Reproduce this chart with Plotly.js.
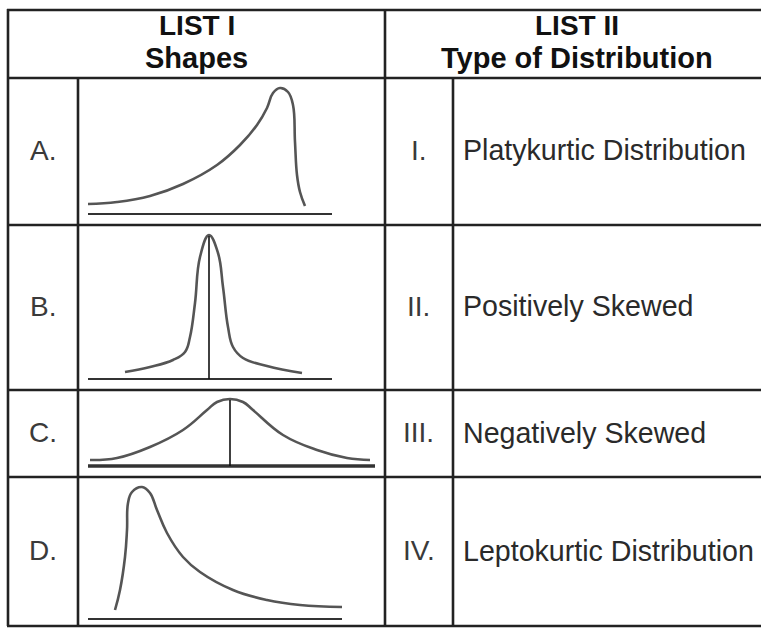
<!DOCTYPE html>
<html>
<head>
<meta charset="utf-8">
<script src="https://cdn.plot.ly/plotly-3.0.1.min.js"></script>
<style>html,body{margin:0;padding:0;background:#fff;}#chart{width:761px;height:628px;}</style>
</head>
<body>
<div id="chart"></div>
<script>
// ---------- DATA ----------
const headerTitles = ['LIST I', 'LIST II'];
const headerSubtitles = ['Shapes', 'Type of Distribution'];
const rowLetters = ['A.', 'B.', 'C.', 'D.'];
const romanNumerals = ['I.', 'II.', 'III.', 'IV.'];
const distributionTypes = ['Platykurtic Distribution', 'Positively Skewed', 'Negatively Skewed', 'Leptokurtic Distribution'];

// Shape A (curve values: horizontal value, height above baseline)
const shapeA_x = [0, 29, 62, 95, 129, 152, 169, 179, 185, 192, 200, 205, 207, 209, 212, 217];
const shapeA_y = [10, 12, 18, 30, 49, 69, 89, 106, 121, 126, 122, 109, 72, 39, 22, 8];
const shapeA_base = [0, 244];

// Shape B
const shapeB_x = [37, 62, 85, 97, 102, 107, 112, 121, 130, 135, 140, 145, 155, 179, 214];
const shapeB_y = [7, 12, 19, 27, 42, 76, 122, 144, 126, 92, 52, 32, 21, 13, 6];
const shapeB_base = [0, 244];
const shapeB_mode = 121;

// Shape C
const shapeC_x = [2, 29, 62, 95, 119, 129, 142, 155, 165, 195, 229, 259, 282];
const shapeC_y = [6, 8, 19, 36, 56, 64, 67, 64, 56, 31, 16, 8, 6];
const shapeC_base = [0, 287];
const shapeC_mode = 142;

// Shape D
const shapeD_x = [27, 32, 37, 39, 40, 44, 54, 62, 69, 79, 95, 112, 145, 179, 212, 254];
const shapeD_y = [9, 29, 62, 89, 116, 127, 132, 126, 109, 86, 62, 47, 29, 19, 14, 12];
const shapeD_base = [0, 254];

// ---------- LAYOUT GEOMETRY ----------
const W = 761, H = 628;
const colX = [8, 78, 385, 453];
const rowY = [10, 78, 225, 390, 477, 626];
const baseY = [214, 379, 466, 619];
const curveLeft = 88;
const px = x => x / W;
const py = y => 1 - y / H;

const curveColor = '#555555';
const lineColor = '#222222';
const fontFam = 'Liberation Sans, Arial, sans-serif';

const shapesData = [
  {x: shapeA_x, y: shapeA_y, base: shapeA_base, mode: null},
  {x: shapeB_x, y: shapeB_y, base: shapeB_base, mode: shapeB_mode},
  {x: shapeC_x, y: shapeC_y, base: shapeC_base, mode: shapeC_mode},
  {x: shapeD_x, y: shapeD_y, base: shapeD_base, mode: null}
];

const traces = [];
const layout = {
  width: W, height: H,
  margin: {l: 0, r: 0, t: 0, b: 0},
  paper_bgcolor: '#ffffff', plot_bgcolor: 'rgba(0,0,0,0)',
  showlegend: false,
  shapes: [], annotations: []
};

shapesData.forEach((s, i) => {
  const xa = i === 0 ? 'x' : 'x' + (i + 1);
  const ya = i === 0 ? 'y' : 'y' + (i + 1);
  const xk = i === 0 ? 'xaxis' : 'xaxis' + (i + 1);
  const yk = i === 0 ? 'yaxis' : 'yaxis' + (i + 1);
  const top = rowY[i + 1], bottom = rowY[i + 2];
  layout[xk] = {domain: [px(colX[1]), px(colX[2])], range: [colX[1] - curveLeft, colX[2] - curveLeft],
    visible: false, fixedrange: true, anchor: ya};
  layout[yk] = {domain: [py(bottom), py(top)], range: [baseY[i] - bottom, baseY[i] - top],
    visible: false, fixedrange: true, anchor: xa};
  traces.push({type: 'scatter', mode: 'lines', x: s.base, y: [0, 0], xaxis: xa, yaxis: ya,
    line: {color: '#333333', width: i === 2 ? 3.5 : 2.2}, hoverinfo: 'skip'});
  traces.push({type: 'scatter', mode: 'lines', x: s.x, y: s.y, xaxis: xa, yaxis: ya,
    line: {color: curveColor, width: 2.6, shape: 'spline', smoothing: 1.2}, hoverinfo: 'skip'});
  if (s.mode !== null) {
    const peak = Math.max.apply(null, s.y);
    traces.push({type: 'scatter', mode: 'lines', x: [s.mode, s.mode], y: [0, peak - 1], xaxis: xa, yaxis: ya,
      line: {color: '#111111', width: 1.6}, hoverinfo: 'skip'});
  }
});

function hline(y, x0, x1) {
  layout.shapes.push({type: 'line', xref: 'paper', yref: 'paper', x0: px(x0), x1: px(x1), y0: py(y), y1: py(y),
    line: {color: lineColor, width: 2.6}});
}
function vline(x, y0, y1) {
  layout.shapes.push({type: 'line', xref: 'paper', yref: 'paper', x0: px(x), x1: px(x), y0: py(y0), y1: py(y1),
    line: {color: lineColor, width: 2.6}});
}
rowY.forEach(y => hline(y, colX[0] - 1, W + 5));
vline(colX[0], rowY[0] - 1, rowY[5]);
vline(colX[1], rowY[1], rowY[5]);
vline(colX[2], rowY[0] - 1, rowY[5]);
vline(colX[3], rowY[1], rowY[5]);

const headerCenters = [(colX[0] + colX[2]) / 2, 577];
headerTitles.forEach((t, i) => {
  layout.annotations.push({xref: 'paper', yref: 'paper', x: px(headerCenters[i]), y: py(25), xanchor: 'center', yanchor: 'middle',
    text: '<b>' + t + '</b>', showarrow: false, font: {family: fontFam, size: 28, color: '#111111'}});
  layout.annotations.push({xref: 'paper', yref: 'paper', x: px(headerCenters[i]), y: py(58), xanchor: 'center', yanchor: 'middle',
    text: '<b>' + headerSubtitles[i] + '</b>', showarrow: false, font: {family: fontFam, size: 29, color: '#111111'}});
});

for (let i = 0; i < 4; i++) {
  const cy = (rowY[i + 1] + rowY[i + 2]) / 2 - 1;
  layout.annotations.push({xref: 'paper', yref: 'paper', x: px((colX[0] + colX[1]) / 2), y: py(cy), xanchor: 'center', yanchor: 'middle',
    text: rowLetters[i], showarrow: false, font: {family: fontFam, size: 28, color: '#3a3a3a'}});
  layout.annotations.push({xref: 'paper', yref: 'paper', x: px((colX[2] + colX[3]) / 2), y: py(cy), xanchor: 'center', yanchor: 'middle',
    text: romanNumerals[i], showarrow: false, font: {family: fontFam, size: 28, color: '#3a3a3a'}});
  layout.annotations.push({xref: 'paper', yref: 'paper', x: px(colX[3] + 8), y: py(cy), xanchor: 'left', yanchor: 'middle',
    text: distributionTypes[i], showarrow: false, font: {family: fontFam, size: 28.6, color: '#2a2a2a'}});
}

Plotly.newPlot('chart', traces, layout, {staticPlot: true, displayModeBar: false});
</script>
</body>
</html>
